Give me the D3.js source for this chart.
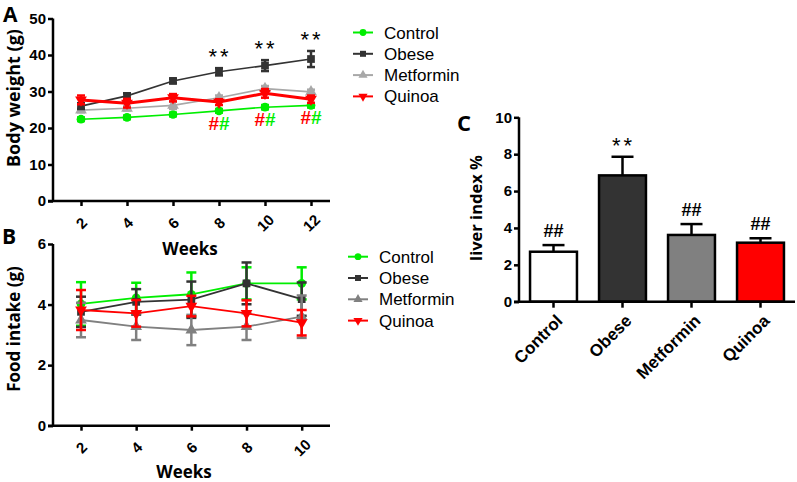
<!DOCTYPE html>
<html><head><meta charset="utf-8">
<script src="https://cdn.jsdelivr.net/npm/d3@7"></script>
<style>body{margin:0;background:#fff}svg{display:block}</style>
</head><body>
<svg id="c" width="797" height="482"></svg>
<script>
// ---------- DATA ----------
const groups = ["Control","Obese","Metformin","Quinoa"];
// Panel A: body weight (g)
const weeksA = [2,4,6,8,10,12];
const bwControl   = [22.4,22.9,23.7,24.7,25.7,26.2];
const bwObese     = [26.0,28.8,32.9,35.4,37.1,38.9];
const bwMetformin = [24.9,25.4,26.2,28.3,30.8,29.9];
const bwQuinoa    = [27.7,26.8,28.3,27.1,29.5,27.9];
const bwControlErr   = [0.5,0.5,0.5,0.5,0.6,0.6];
const bwObeseErr     = [0.8,0.7,0.6,1.0,1.5,2.2];
const bwMetforminErr = [0.6,0.6,1.0,0.6,0.7,0.6];
const bwQuinoaErr    = [1.2,1.2,1.0,0.8,1.2,1.0];
const yTicksA = [0,10,20,30,40,50];
// Panel B: food intake (g)
const weeksB = [2,4,6,8,10];
const fiControl   = [4.02,4.22,4.34,4.70,4.70];
const fiObese     = [3.76,4.09,4.16,4.70,4.18];
const fiMetformin = [3.49,3.27,3.16,3.27,3.60];
const fiQuinoa    = [3.82,3.71,3.95,3.71,3.40];
const fiControlErr   = [0.72,0.50,0.72,0.53,0.53];
const fiObeseErr     = [0.50,0.42,0.60,0.69,0.55];
const fiMetforminErr = [0.57,0.44,0.50,0.44,0.70];
const fiQuinoaErr    = [0.66,0.44,0.34,0.43,0.42];
const yTicksB = [0,2,4,6];
// Panel C: liver index %
const liver    = [2.71,6.85,3.62,3.20];
const liverErr = [0.36,1.01,0.59,0.24];
const liverMarks = ["##","**","##","##"];
const yTicksC = [0,2,4,6,8,10];

// ---------- STYLE ----------
const svg = d3.select("#c");
const tickFont = "'Liberation Sans', Arial, sans-serif";
const titleFont = "'Open Sans', 'Liberation Sans', sans-serif";
const colA = {Control:"#00ee00",Obese:"#333333",Metformin:"#a8a8a8",Quinoa:"#ff0000"};
const colB = {Control:"#00ee00",Obese:"#333333",Metformin:"#808080",Quinoa:"#ff0000"};
const symbols = {Control:d3.symbolCircle,Obese:d3.symbolSquare,Metformin:d3.symbolTriangle,Quinoa:d3.symbolTriangle};

function styleAxis(g, fs){
  g.selectAll("path.domain").attr("stroke","#000").attr("stroke-width",2.5);
  g.selectAll(".tick line").attr("stroke","#000").attr("stroke-width",2.5);
  g.selectAll(".tick text").attr("font-family",tickFont).attr("font-weight","bold").attr("font-size",fs||15).attr("fill","#000");
}

function marker(g, name, x, y, color, size){
  const rot = name==="Quinoa" ? 180 : 0;
  g.append("path").attr("d", d3.symbol().type(symbols[name]).size(size)())
    .attr("transform",`translate(${x},${y}) rotate(${rot})`).attr("fill",color);
}

function linePanel(o){
  const x = d3.scaleLinear().domain(o.xDomain).range(o.xRange);
  const y = d3.scaleLinear().domain(o.yDomain).range(o.yRange);
  const g = svg.append("g");
  // axes
  const ya = g.append("g").attr("transform",`translate(${o.yAxisX},0)`)
    .call(d3.axisLeft(y).tickValues(o.yTicks).tickFormat(d3.format("d")).tickSize(5).tickPadding(2).tickSizeOuter(0));
  styleAxis(ya, 15);
  ya.select("path.domain").attr("d",`M0,${y(o.yDomain[1])}V${y(0)}`);
  const xa = g.append("g").attr("transform",`translate(0,${y(0)})`)
    .call(d3.axisBottom(x).tickValues(o.weeks).tickFormat(d3.format("d")).tickSize(5).tickSizeOuter(0));
  styleAxis(xa, 15);
  xa.select("path.domain").attr("d",`M${o.yAxisX-5},0H${o.xEnd}`);
  xa.selectAll(".tick text").attr("text-anchor","middle").attr("y",0).attr("dy","0.35em")
    .attr("transform","translate(0,22) rotate(-45)");
  // series
  o.series.forEach(s=>{
    const c = o.colors[s.name];
    const pts = o.weeks.map((w,i)=>({x:x(w),y:y(s.v[i]),lo:y(s.v[i]-s.e[i]),hi:y(s.v[i]+s.e[i])}));
    pts.forEach(p=>{
      g.append("line").attr("x1",p.x).attr("x2",p.x).attr("y1",p.lo).attr("y2",p.hi).attr("stroke",c).attr("stroke-width",o.ebw);
      [p.lo,p.hi].forEach(yy=>g.append("line").attr("x1",p.x-o.cap).attr("x2",p.x+o.cap).attr("y1",yy).attr("y2",yy).attr("stroke",c).attr("stroke-width",o.ebw));
    });
    g.append("path").datum(pts).attr("d",d3.line().x(d=>d.x).y(d=>d.y))
      .attr("fill","none").attr("stroke",c).attr("stroke-width",o.widths[s.name]);
    pts.forEach(p=>marker(g,s.name,p.x,p.y,c,o.msize));
  });
  // titles
  g.append("text").attr("x",o.xTitle[0]).attr("y",o.xTitle[1]).attr("text-anchor","middle")
    .attr("font-family",titleFont).attr("font-weight","bold").attr("font-size",17).text("Weeks");
  g.append("text").attr("transform",`translate(${o.yTitle[0]},${o.yTitle[1]}) rotate(-90)`).attr("text-anchor","middle")
    .attr("font-family",titleFont).attr("font-weight","bold").attr("font-size",o.yFs).text(o.yLabel);
  g.append("text").attr("x",o.letter[0]).attr("y",o.letter[1]).attr("font-family",titleFont)
    .attr("font-weight","bold").attr("font-size",21).text(o.letterText);
  // legend
  groups.forEach((nm,i)=>{
    const ly = o.legend[1] + i*21.3;
    const c = o.colors[nm];
    g.append("line").attr("x1",o.legend[0]).attr("x2",o.legend[0]+20).attr("y1",ly).attr("y2",ly).attr("stroke",c).attr("stroke-width",2);
    marker(g,nm,o.legend[0]+10,ly,c,36);
    g.append("text").attr("x",o.legend[0]+31).attr("y",ly+6).attr("font-family",tickFont).attr("font-size",17).attr("fill","#000").text(nm);
  });
  return {g,x,y};
}

// Panel A
const A = linePanel({
  xDomain:[2,12], xRange:[81,311], yDomain:[0,50], yRange:[201,18.5], yAxisX:53, xEnd:330,
  weeks:weeksA, yTicks:yTicksA, colors:colA, ebw:2.5, cap:4, msize:60,
  widths:{Control:1.6,Obese:1.6,Metformin:1.6,Quinoa:3},
  series:[
    {name:"Control",v:bwControl,e:bwControlErr},
    {name:"Metformin",v:bwMetformin,e:bwMetforminErr},
    {name:"Obese",v:bwObese,e:bwObeseErr},
    {name:"Quinoa",v:bwQuinoa,e:bwQuinoaErr}],
  xTitle:[190,255], yTitle:[20,98], yFs:18, yLabel:"Body weight (g)", letter:[3,22], letterText:"A",
  legend:[353,32.5]
});
// stars and hashes in A
[8,10,12].forEach(w=>{
  const i = weeksA.indexOf(w);
  A.g.append("text").attr("x",A.x(w)+1).attr("y",A.y(bwObese[i]+bwObeseErr[i])-4).attr("text-anchor","middle")
    .attr("font-family",tickFont).attr("font-size",22).attr("letter-spacing",3).text("**");
  const t = A.g.append("text").attr("x",A.x(w)).attr("y",A.y(bwControl[i])+19).attr("text-anchor","middle")
    .attr("font-family",tickFont).attr("font-weight","bold").attr("font-size",19);
  t.append("tspan").attr("fill","#ff0000").text("#");
  t.append("tspan").attr("fill","#00ee00").text("#");
});

// Panel B
linePanel({
  xDomain:[2,10], xRange:[81,301.7], yDomain:[0,6], yRange:[425.7,244], yAxisX:53, xEnd:330,
  weeks:weeksB, yTicks:yTicksB, colors:colB, ebw:2.5, cap:5, msize:60,
  widths:{Control:1.8,Obese:1.8,Metformin:1.8,Quinoa:1.8},
  series:[
    {name:"Control",v:fiControl,e:fiControlErr},
    {name:"Obese",v:fiObese,e:fiObeseErr},
    {name:"Metformin",v:fiMetformin,e:fiMetforminErr},
    {name:"Quinoa",v:fiQuinoa,e:fiQuinoaErr}],
  xTitle:[184,478], yTitle:[20,329], yFs:17, yLabel:"Food intake (g)", letter:[2,244], letterText:"B",
  legend:[348,256.7]
});

// Panel C
{
  const x = d3.scaleBand().domain(groups).range([519,795]).paddingInner(0.32).paddingOuter(0.16);
  const y = d3.scaleLinear().domain([0,10]).range([301.7,117.3]);
  const g = svg.append("g");
  const fills = ["#ffffff","#333333","#808080","#ff0000"];
  groups.forEach((nm,i)=>{
    const cx = x(nm)+x.bandwidth()/2;
    g.append("line").attr("x1",cx).attr("x2",cx).attr("y1",y(liver[i])).attr("y2",y(liver[i]+liverErr[i])).attr("stroke","#000").attr("stroke-width",2.5);
    g.append("line").attr("x1",cx-11).attr("x2",cx+11).attr("y1",y(liver[i]+liverErr[i])).attr("y2",y(liver[i]+liverErr[i])).attr("stroke","#000").attr("stroke-width",2.5);
    g.append("rect").attr("x",x(nm)).attr("width",x.bandwidth()).attr("y",y(liver[i])).attr("height",y(0)-y(liver[i]))
      .attr("fill",fills[i]).attr("stroke","#000").attr("stroke-width",2.5);
    const star = liverMarks[i]==="**";
    g.append("text").attr("x",cx+(star?1:0)).attr("y",y(liver[i]+liverErr[i])-(star?4:8)).attr("text-anchor","middle")
      .attr("font-family",tickFont).attr("font-weight",star?"normal":"bold").attr("font-size",star?22:18)
      .attr("letter-spacing",star?3:0).text(liverMarks[i]);
  });
  const ya = g.append("g").attr("transform","translate(519,0)")
    .call(d3.axisLeft(y).tickValues(yTicksC).tickSize(5).tickPadding(2).tickSizeOuter(0));
  styleAxis(ya, 15);
  ya.select("path.domain").attr("d",`M0,${y(10)}V${y(0)}`);
  const xa = g.append("g").attr("transform",`translate(0,${y(0)})`).call(d3.axisBottom(x).tickSize(6).tickSizeOuter(0));
  styleAxis(xa, 17);
  xa.select("path.domain").attr("d","M514,0H795");
  xa.selectAll(".tick text").attr("text-anchor","end").attr("y",0).attr("dy","0.35em").attr("transform","translate(6,16) rotate(-45)");
  g.append("text").attr("transform","translate(482,208) rotate(-90)").attr("text-anchor","middle")
    .attr("font-family",titleFont).attr("font-weight","bold").attr("font-size",16.5).text("liver index %");
  g.append("text").attr("x",457).attr("y",131).attr("font-family",titleFont).attr("font-weight","bold").attr("font-size",22).text("C");
}
</script>
</body></html>
